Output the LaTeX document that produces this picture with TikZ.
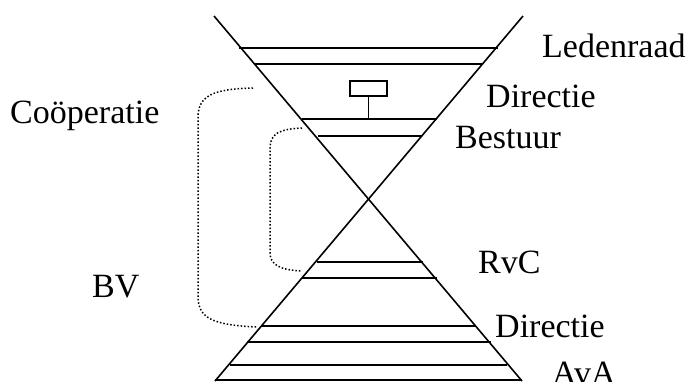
\documentclass[tikz,border=0pt]{standalone}
\usepackage{fontspec}
\setmainfont{Liberation Serif}
\begin{document}
\begin{tikzpicture}[x=1pt,y=-1pt,
  solid line/.style={line width=1.6pt,black},
  bracket/.style={line width=1.5pt,dotted,black},
  lbl/.style={anchor=base west,inner sep=0pt,font=\fontsize{34}{40}\selectfont}]
\useasboundingbox (0,0) rectangle (696,381);
\clip (0,0) rectangle (696,381);
% X
\coordinate (tl) at (214,16);
\coordinate (tr) at (523,16);
\coordinate (bl) at (215,381);
\coordinate (br) at (522,381);
\draw[solid line] (tl) -- (br);
\draw[solid line] (tr) -- (bl);
% upper lines
\draw[solid line] (239,48) -- (498,48);
\draw[solid line] (255,64) -- (483,64);
\draw[solid line] (302,119) coordinate (bu1) -- (437,119);
\draw[solid line] (318,136) -- (422,136);
% director box
\node[draw,line width=1.6pt,minimum width=37pt,minimum height=15pt,inner sep=0pt,anchor=north west] (box) at (349,80) {};
\coordinate (stem) at (box.south |- bu1);
\draw[solid line] (box.south) -- (stem);
% lower lines
\draw[solid line] (317,262) -- (423,262);
\draw[solid line] (302,278) -- (437,278);
\draw[solid line] (262,326) -- (476,326);
\draw[solid line] (247,342) -- (491,342);
\draw[solid line] (230,365) -- (507,365);
\draw[solid line] (215,380) -- (522,380);
% brackets
\coordinate (o1) at (253,88);
\coordinate (o2) at (257,327);
\coordinate (i1) at (302,128);
\coordinate (i2) at (302,271);
\draw[bracket] (o1) .. controls (212,89) and (198,96) .. (198,118) -- (198,296) .. controls (198,318) and (212,325) .. (o2);
\draw[bracket] (i1) .. controls (279,129) and (270,134) .. (270,148) -- (270,252) .. controls (270,265) and (280,270) .. (i2);
% labels
\node[lbl] (led) at (542,57) {Ledenraad};
\node[lbl] (dir1) at (486,107) {Directie};
\node[lbl] (bes) at (455,148) {Bestuur};
\node[lbl] (coop) at (10,123) {Coöperatie};
\node[lbl] (rvc) at (478,273) {RvC};
\node[lbl] (bv) at (92,297) {BV};
\node[lbl] (dir2) at (495,337) {Directie};
\node[lbl] (ava) at (552,384) {AvA};
\end{tikzpicture}
\end{document}
